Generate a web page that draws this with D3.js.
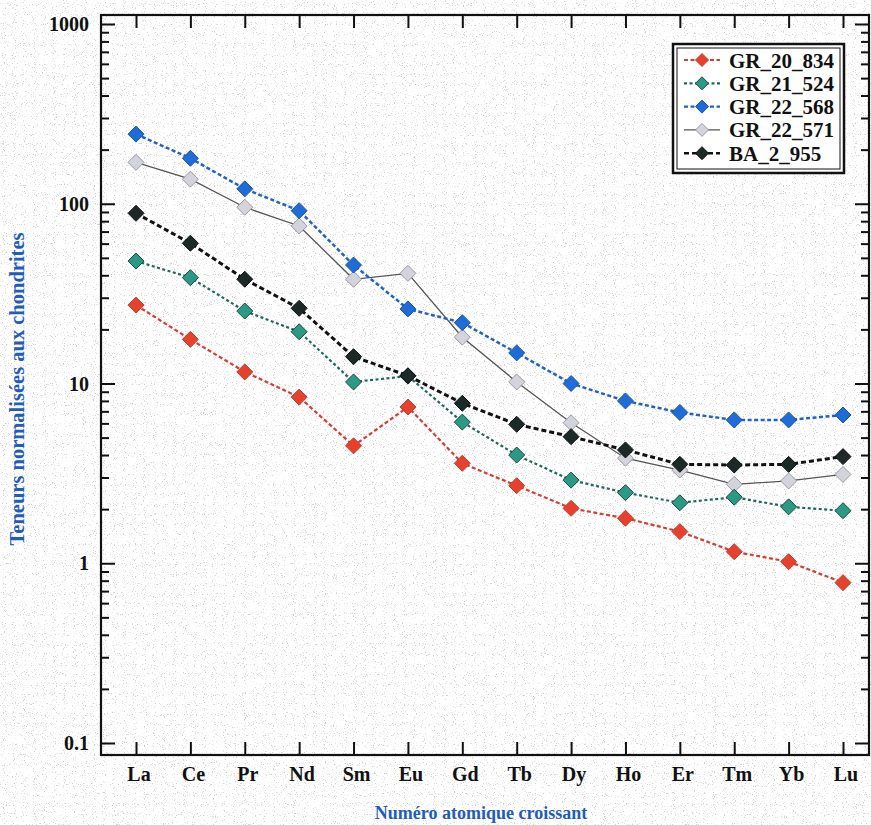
<!DOCTYPE html>
<html><head><meta charset="utf-8">
<script src="https://cdn.jsdelivr.net/npm/d3@7/dist/d3.min.js"></script>
<style>html,body{margin:0;padding:0;background:#fff}svg{display:block}</style>
</head><body>
<script>
const elements = ["La","Ce","Pr","Nd","Sm","Eu","Gd","Tb","Dy","Ho","Er","Tm","Yb","Lu"];
const GR_20_834 = [27.3,17.6,11.6,8.4,4.5,7.4,3.6,2.7,2.02,1.78,1.50,1.16,1.02,0.78];
const GR_21_524 = [48.0,38.8,25.3,19.4,10.2,11.0,6.1,4.0,2.9,2.47,2.17,2.33,2.06,1.96];
const GR_22_568 = [244,179,121,91.5,45.6,26.0,21.8,14.8,10.0,8.0,6.9,6.27,6.27,6.68];
const GR_22_571 = [170,137,95.6,75.2,38.0,41.0,18.1,10.2,6.05,3.84,3.30,2.75,2.87,3.12];
const BA_2_955  = [88.5,60.3,38.0,26.2,14.1,11.05,7.76,5.93,5.06,4.27,3.55,3.52,3.55,3.92];
const yTicks = [0.1,1,10,100,1000];
const yTickLabels = ["0.1","1","10","100","1000"];
const seriesNames = ["GR_20_834","GR_21_524","GR_22_568","GR_22_571","BA_2_955"];
const xTitle = "Numéro atomique croissant";
const yTitle = "Teneurs normalisées aux chondrites";

const W = 871, H = 825;
const L = 101, R = 869, T = 15, B = 755;
const svg = d3.select("body").append("svg").attr("width", W).attr("height", H);

// scanned-paper speckle (deterministic SVG noise, decorative only)
const defs = svg.append("defs");
const f = defs.append("filter").attr("id","speckle").attr("x",0).attr("y",0).attr("width","100%").attr("height","100%");
f.append("feTurbulence").attr("type","fractalNoise").attr("baseFrequency","0.9").attr("numOctaves",1).attr("seed",7).attr("result","n");
f.append("feColorMatrix").attr("in","n").attr("type","matrix")
  .attr("values","0 0 0 0 0.45  0 0 0 0 0.45  0 0 0 0 0.45  9 0 0 0 -5.5");
svg.append("rect").attr("width",W).attr("height",H).attr("fill","#fff");
svg.append("rect").attr("width",W).attr("height",H).attr("filter","url(#speckle)").attr("opacity",0.6);

const x = d3.scalePoint().domain(elements).range([136, 843]);
const y = d3.scaleLog().domain([0.1, 1000]).range([743, 24]);

const serif = "'Liberation Serif','Times New Roman',serif";

const minor = [];
for (let e = -1; e < 3; e++) for (let k = 2; k <= 9; k++) minor.push(k * Math.pow(10, e));

const gl = svg.append("g").attr("transform", `translate(${L},0)`);
gl.call(d3.axisRight(y).tickValues(yTicks).tickSize(14).tickFormat(""));
const glm = svg.append("g").attr("transform", `translate(${L},0)`);
glm.call(d3.axisRight(y).tickValues(minor).tickSize(8).tickFormat(""));
const gr = svg.append("g").attr("transform", `translate(${R},0)`);
gr.call(d3.axisLeft(y).tickValues(yTicks).tickSize(14).tickFormat(""));
const grm = svg.append("g").attr("transform", `translate(${R},0)`);
grm.call(d3.axisLeft(y).tickValues(minor).tickSize(8).tickFormat(""));
const gb = svg.append("g").attr("transform", `translate(0,${B})`);
gb.call(d3.axisTop(x).tickSize(13).tickFormat(""));
const gt = svg.append("g").attr("transform", `translate(0,${T})`);
gt.call(d3.axisBottom(x).tickSize(13).tickFormat(""));
svg.selectAll(".domain").remove();
svg.selectAll(".tick line").attr("stroke", "#111").attr("stroke-width", 2);

svg.append("rect").attr("x", L).attr("y", T).attr("width", R - L).attr("height", B - T)
  .attr("fill", "none").attr("stroke", "#111").attr("stroke-width", 2.2);

svg.append("g").selectAll("text").data(yTicks).join("text")
  .attr("x", 89).attr("y", d => y(d)).attr("dy", "0.35em").attr("text-anchor", "end")
  .attr("font-family", serif).attr("font-weight", "bold").attr("font-size", 20).attr("fill", "#111")
  .text((d, i) => yTickLabels[i]);
svg.append("g").selectAll("text").data(elements).join("text")
  .attr("x", d => x(d) + 3).attr("y", 781).attr("text-anchor", "middle")
  .attr("font-family", serif).attr("font-weight", "bold").attr("font-size", 20).attr("fill", "#111")
  .text(d => d);

svg.append("text").attr("x", 481).attr("y", 819).attr("text-anchor", "middle")
  .attr("font-family", serif).attr("font-weight", "bold").attr("font-size", 18).attr("fill", "#1f5cc0")
  .text(xTitle);
svg.append("text").attr("transform", "translate(24,389) rotate(-90)").attr("text-anchor", "middle")
  .attr("font-family", serif).attr("font-weight", "bold").attr("font-size", 20.5).attr("fill", "#1f5cc0")
  .text(yTitle);

const styles = {
  "GR_22_571": {data: GR_22_571, line: "#555", dash: null, w: 1.3, fill: "#d3d3db", stroke: "#9a9aa4"},
  "GR_20_834": {data: GR_20_834, line: "#dd3a30", dash: "4,2.5", w: 2.2, fill: "#e5422e", stroke: "#c83a2a"},
  "GR_21_524": {data: GR_21_524, line: "#1d6a5c", dash: "3,2.5", w: 2.2, fill: "#2b9a84", stroke: "#1b4a40"},
  "GR_22_568": {data: GR_22_568, line: "#1f62cc", dash: "4,2.5", w: 2.5, fill: "#1f6cd6", stroke: "#1a55b0"},
  "BA_2_955":  {data: BA_2_955,  line: "#111", dash: "5,3", w: 3, fill: "#1b2a26", stroke: "#0c1412"}
};
const drawOrder = ["GR_22_571","GR_20_834","GR_21_524","GR_22_568","BA_2_955"];
const line = d3.line().x((d, i) => x(elements[i])).y(d => y(d));
function diamondPath(r) { return `M0,${-r}L${r},0L0,${r}L${-r},0Z`; }

drawOrder.forEach(name => {
  const s = styles[name];
  const g = svg.append("g");
  g.append("path").attr("d", line(s.data)).attr("fill", "none")
    .attr("stroke", s.line).attr("stroke-width", s.w).attr("stroke-dasharray", s.dash);
  g.selectAll("path.m").data(s.data).join("path").attr("class", "m")
    .attr("transform", (d, i) => `translate(${x(elements[i])},${y(d)})`)
    .attr("d", diamondPath(8)).attr("fill", s.fill).attr("stroke", s.stroke).attr("stroke-width", 1);
});

const lg = svg.append("g");
lg.append("rect").attr("x", 673).attr("y", 44).attr("width", 171).attr("height", 129)
  .attr("fill", "#fff").attr("stroke", "#111").attr("stroke-width", 2.5);
lg.append("rect").attr("x", 677).attr("y", 48).attr("width", 163).attr("height", 121)
  .attr("fill", "none").attr("stroke", "#111").attr("stroke-width", 1);
seriesNames.forEach((name, i) => {
  const s = styles[name];
  const yy = 60 + i * 23.3;
  lg.append("line").attr("x1", 684).attr("x2", 720).attr("y1", yy).attr("y2", yy)
    .attr("stroke", s.line).attr("stroke-width", Math.min(s.w, 2.4)).attr("stroke-dasharray", s.dash);
  lg.append("path").attr("transform", `translate(702,${yy})`).attr("d", diamondPath(6.5))
    .attr("fill", s.fill).attr("stroke", s.stroke).attr("stroke-width", 1);
  lg.append("text").attr("x", 729).attr("y", yy).attr("dy", "0.36em")
    .attr("font-family", serif).attr("font-weight", "bold").attr("font-size", 21).attr("fill", "#111")
    .text(name);
});
</script>
</body></html>
